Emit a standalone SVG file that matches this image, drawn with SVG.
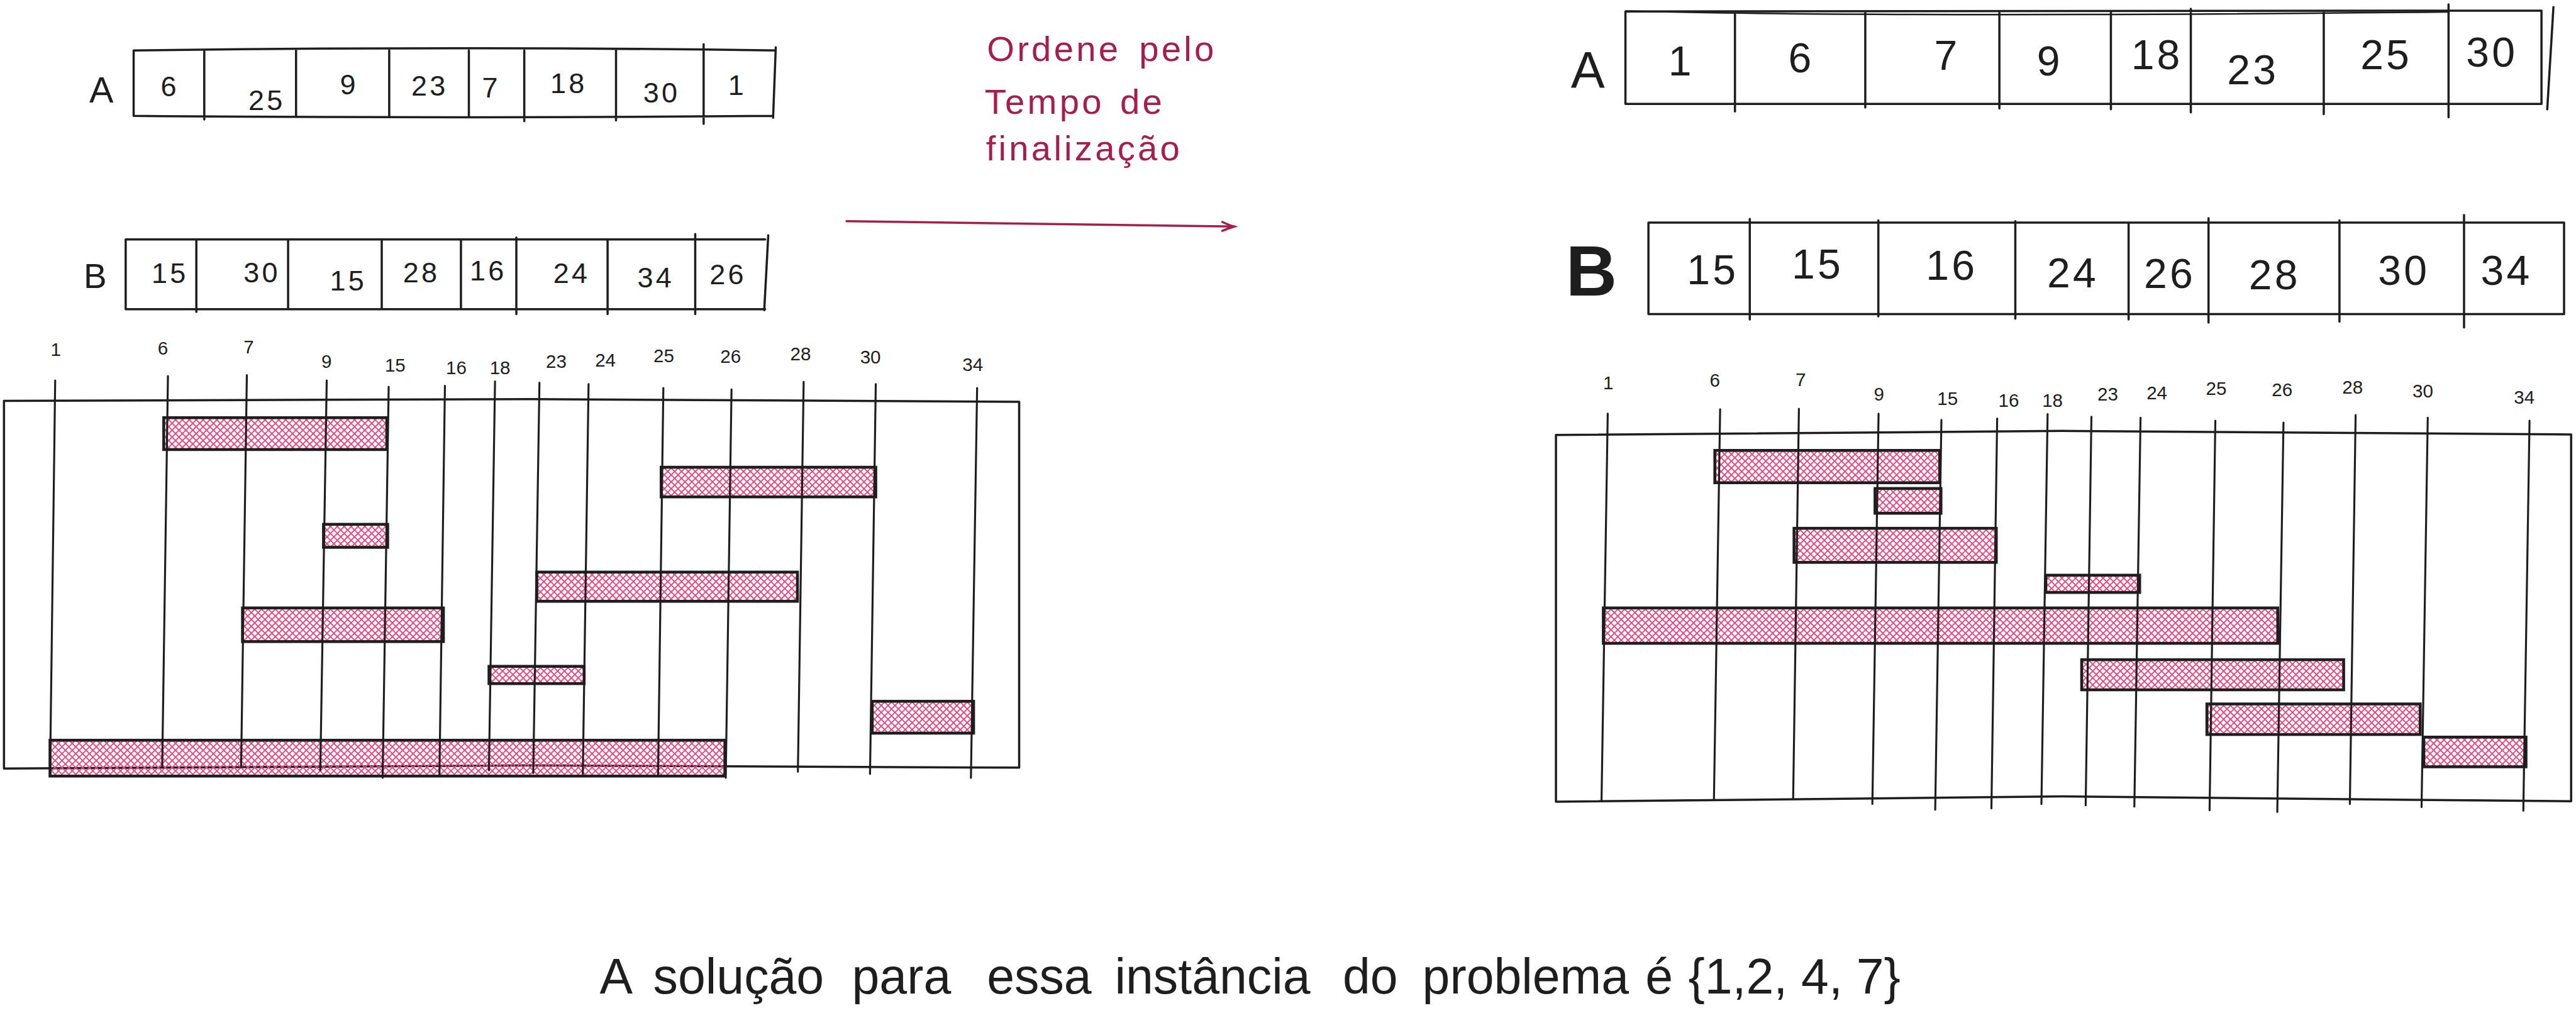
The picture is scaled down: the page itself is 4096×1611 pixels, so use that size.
<svg xmlns="http://www.w3.org/2000/svg" width="4096" height="1611" viewBox="0 0 4096 1611">
<defs>
<style>
.ln{stroke:#1e1e1e;stroke-width:4.5;fill:none;stroke-linecap:round}
.ar{stroke:#1e1e1e;stroke-width:5;fill:none;stroke-linecap:round}
.fr{stroke:#1e1e1e;stroke-width:5;fill:none;stroke-linejoin:round}
.bar{fill:url(#hatch);stroke:#1e1e1e;stroke-width:6.5}
.t{font-family:"Liberation Sans",Arial,sans-serif;fill:#1e1e1e;text-anchor:middle}
.s{font-size:64px;letter-spacing:6px}
.m{font-size:94px;letter-spacing:6px}
.k{font-size:42px}
.red{font-family:"Liberation Sans",Arial,sans-serif;fill:#a61e4d;font-size:80px;letter-spacing:6px}
.bt{font-family:"Liberation Sans",Arial,sans-serif;fill:#1e1e1e;font-size:112px}
</style>
<pattern id="hatch" patternUnits="userSpaceOnUse" width="11" height="11" patternTransform="rotate(45)">
<path d="M0,5.5 H11 M5.5,0 V11" stroke="#e64980" stroke-width="2.8"/>
</pattern>
<marker id="ah" markerUnits="userSpaceOnUse" markerWidth="60" markerHeight="40" refX="0" refY="0" viewBox="-40 -20 60 40" orient="auto" overflow="visible">
<path d="M-27,-10 Q-12,-3 0,0 Q-12,4 -27,10" fill="none" stroke="#a61e4d" stroke-width="5" stroke-linecap="round"/>
</marker>
</defs>
<rect width="4096" height="1611" fill="#ffffff"/>
<g transform="scale(0.70366)">

<g id="array-A-left">
<path class="ar" d="M302,114 Q1025,104 1753,114 M302,262 Q1025,268 1747,262 M302,114 V262 M1753,107 L1747,266 M461.6,114 V270 M669,114 V262 M879.5,114 V262 M1059.5,114 V262 M1184.7,114 V274 M1392,114 V272 M1590,100 V280"/>
<text class="t" x="229" y="232" font-size="82">A</text>
<text class="t s" x="384" y="218">6</text>
<text class="t s" x="603" y="248">25</text>
<text class="t s" x="789" y="213">9</text>
<text class="t s" x="971" y="216">23</text>
<text class="t s" x="1110" y="220">7</text>
<text class="t s" x="1285" y="211">18</text>
<text class="t s" x="1495" y="232">30</text>
<text class="t s" x="1666" y="214">1</text>
</g>

<g id="array-B-left">
<path class="ar" d="M284,541 H1729 M284,699 H1729 M284,541 V699 M1736,532 L1727,701 M443.7,541 V705 M651,541 V699 M862.6,541 V699 M1041.6,541 V699 M1166.8,537 V710 M1373,541 V710 M1571,529 V710"/>
<text class="t" x="215" y="651" font-size="78">B</text>
<text class="t s" x="384" y="640">15</text>
<text class="t s" x="592" y="638">30</text>
<text class="t s" x="787" y="657">15</text>
<text class="t s" x="952" y="638">28</text>
<text class="t s" x="1103" y="634">16</text>
<text class="t s" x="1292" y="640">24</text>
<text class="t s" x="1482" y="649">34</text>
<text class="t s" x="1645" y="642">26</text>
</g>

<g id="timeline-left">
<path class="fr" d="M9,906 L1200,902 L2303,908 L2303,1735 L1200,1730 L9,1737 Z"/>
<rect class="bar" x="370" y="944" width="504" height="72"/>
<rect class="bar" x="1494" y="1056" width="485" height="67"/>
<rect class="bar" x="731" y="1185" width="145" height="52"/>
<rect class="bar" x="1213" y="1293" width="589" height="66"/>
<rect class="bar" x="548" y="1374" width="454" height="76"/>
<rect class="bar" x="1105" y="1506" width="215" height="39"/>
<rect class="bar" x="1971" y="1585" width="229" height="72"/>
<rect class="bar" x="113" y="1673" width="1525" height="81"/>
<path class="ln" d="M124.7,860 L113,1754 M379.5,850 L366.5,1734 M557.8,848 L544.8,1734 M738.3,860 L723.8,1741 M878.3,874 L864.6,1758 M1005.4,872 L993,1752 M1118.6,862 L1104.8,1741 M1219,865 L1205,1747 M1330,868 L1317,1749 M1499,877 L1487,1751 M1653,880 L1640,1758 M1816,863 L1803,1744 M1979,868 L1966,1749 M2208,877 L2194,1758"/>
<text class="t k" x="126" y="804">1</text>
<text class="t k" x="368" y="801">6</text>
<text class="t k" x="562" y="798">7</text>
<text class="t k" x="738" y="831">9</text>
<text class="t k" x="893" y="840">15</text>
<text class="t k" x="1031" y="845">16</text>
<text class="t k" x="1130" y="845">18</text>
<text class="t k" x="1257" y="831">23</text>
<text class="t k" x="1368" y="828">24</text>
<text class="t k" x="1500" y="818">25</text>
<text class="t k" x="1651" y="820">26</text>
<text class="t k" x="1809" y="814">28</text>
<text class="t k" x="1967" y="822">30</text>
<text class="t k" x="2198" y="838">34</text>
</g>

<g id="label-ordene">
<text class="red"><tspan x="2230" y="138">Ordene </tspan><tspan x="2574" y="138">pelo</tspan><tspan x="2225" y="257">Tempo </tspan><tspan x="2531" y="257">de</tspan><tspan x="2228" y="363">finalização</tspan></text>
</g>

<g id="connectors">
<path d="M1913,500 L2789,512" fill="none" stroke="#a61e4d" stroke-width="5" stroke-linecap="round" marker-end="url(#ah)"/>
</g>

<g id="array-A-right">
<path class="ar" d="M3673,26 L5743,24 M3673,235 L5743,235 M3673,26 V235 M5743,24 V235 M5770,16 L5756,247 M3920.5,26 V252 M4215,26 V243 M4518,26 V245 M4770,26 V247 M4950.6,20 V254 M5251,26 V258 M5533,10 V265"/>
<path d="M3673,25 Q4300,40 5532,27" fill="none" stroke="#1e1e1e" stroke-width="3.5"/>
<text class="t" x="3588" y="198" font-size="115">A</text>
<text class="t m" x="3799" y="171">1</text>
<text class="t m" x="4070" y="163">6</text>
<text class="t m" x="4400" y="158">7</text>
<text class="t m" x="4632" y="170">9</text>
<text class="t m" x="4874" y="156">18</text>
<text class="t m" x="5091" y="191">23</text>
<text class="t m" x="5392" y="156">25</text>
<text class="t m" x="5631" y="151">30</text>
</g>

<g id="array-B-right">
<path class="ar" d="M3725,503 H5794 M3725,710 H5794 M3725,503 V710 M5794,503 V710 M3954,495 V722 M4244.5,498 V715 M4554,500 V720 M4810,503 V722 M4990.6,493 V729 M5286.5,498 V727 M5568,486 V740"/>
<text class="t" x="3596" y="668" font-size="160" font-weight="bold">B</text>
<text class="t m" x="3870" y="642">15</text>
<text class="t m" x="4107" y="630">15</text>
<text class="t m" x="4410" y="632">16</text>
<text class="t m" x="4684" y="649">24</text>
<text class="t m" x="4903" y="651">26</text>
<text class="t m" x="5140" y="654">28</text>
<text class="t m" x="5432" y="644">30</text>
<text class="t m" x="5664" y="644">34</text>
</g>

<g id="timeline-right">
<path class="fr" d="M3516,983 L4660,974 L5810,982 L5810,1811 L4660,1800 L3516,1812 Z"/>
<rect class="bar" x="3875" y="1018" width="508" height="73"/>
<rect class="bar" x="4237" y="1104" width="149" height="56"/>
<rect class="bar" x="4054" y="1194" width="457" height="77"/>
<rect class="bar" x="4623" y="1300" width="212" height="39"/>
<rect class="bar" x="3623" y="1374" width="1524" height="80"/>
<rect class="bar" x="4704" y="1491" width="592" height="68"/>
<rect class="bar" x="4987" y="1591" width="482" height="69"/>
<rect class="bar" x="5477" y="1666" width="231" height="67"/>
<path class="ln" d="M3633,935 L3619,1809 M3887,925 L3873,1806 M4065,924 L4052,1804 M4245,935 L4231,1817 M4387,949 L4373,1830 M4513,946 L4500,1827 M4627,936 L4613,1817 M4726,942 L4713,1820 M4837,944 L4823,1823 M5006,951 L4993,1831 M5160,955 L5146,1835 M5323,938 L5310,1817 M5486,944 L5472,1824 M5716,951 L5702,1832"/>
<text class="t k" x="3634" y="879">1</text>
<text class="t k" x="3875" y="874">6</text>
<text class="t k" x="4069" y="873">7</text>
<text class="t k" x="4246" y="905">9</text>
<text class="t k" x="4401" y="915">15</text>
<text class="t k" x="4539" y="919">16</text>
<text class="t k" x="4638" y="919">18</text>
<text class="t k" x="4763" y="905">23</text>
<text class="t k" x="4874" y="902">24</text>
<text class="t k" x="5008" y="892">25</text>
<text class="t k" x="5157" y="896">26</text>
<text class="t k" x="5316" y="889">28</text>
<text class="t k" x="5475" y="898">30</text>
<text class="t k" x="5704" y="912">34</text>
</g>

<g id="label-solucao">
<text class="bt" y="2245"><tspan x="1355">A </tspan><tspan x="1476">solução </tspan><tspan x="1925">para </tspan><tspan x="2230">essa </tspan><tspan x="2519">instância </tspan><tspan x="3034">do </tspan><tspan x="3214">problema </tspan><tspan x="3718">é </tspan><tspan x="3815">{1,2, 4, 7}</tspan></text>
</g>

</g>
</svg>
